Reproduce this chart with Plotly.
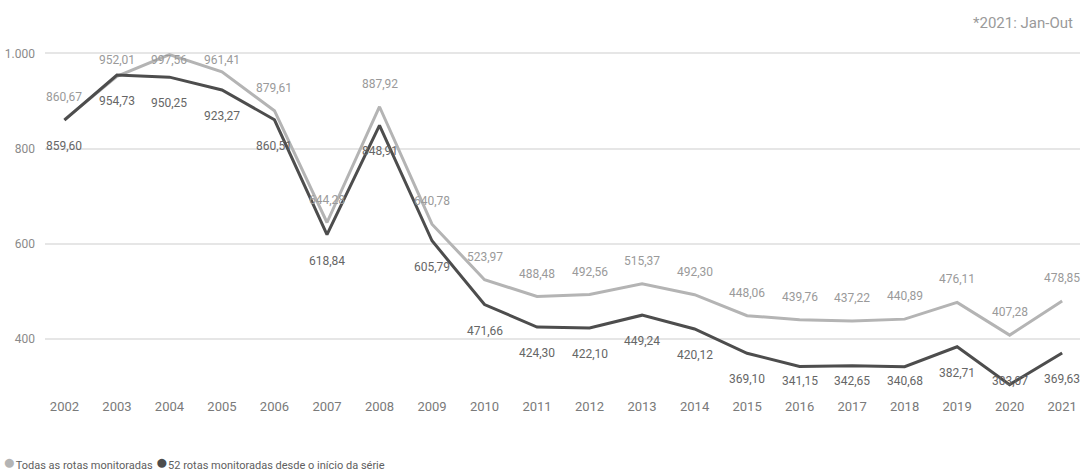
import plotly.graph_objects as go

years = list(range(2002, 2022))
todas = [860.67, 952.01, 997.56, 961.41, 879.61, 644.28, 887.92, 640.78, 523.97, 488.48,
         492.56, 515.37, 492.30, 448.06, 439.76, 437.22, 440.89, 476.11, 407.28, 478.85]
rotas52 = [859.60, 954.73, 950.25, 923.27, 860.51, 618.84, 848.91, 605.79, 471.66, 424.30,
           422.10, 449.24, 420.12, 369.10, 341.15, 342.65, 340.68, 382.71, 303.07, 369.63]
ytick_vals = [400, 600, 800, 1000]
ytick_text = ["400", "600", "800", "1.000"]

name_todas = "Todas as rotas monitoradas"
name_52 = "52 rotas monitoradas desde o início da série"

FONT = "Roboto, Liberation Sans, sans-serif"
LIGHT = "#b4b4b4"
DARK = "#4d4d4d"

W, H = 1083, 476
M_T, M_B, M_L, M_R = 40, 79, 45, 3
Y0, Y1 = 277, 1028.4
plot_h = H - M_T - M_B
ppu = plot_h / (Y1 - Y0)


def fmt(v):
    return f"{v:.2f}".replace(".", ",")


fig = go.Figure()
fig.add_trace(go.Scatter(x=years, y=todas, mode="lines", name=name_todas,
                         line=dict(color=LIGHT, width=3), showlegend=False))
fig.add_trace(go.Scatter(x=years, y=rotas52, mode="lines", name=name_52,
                         line=dict(color=DARK, width=3), showlegend=False))

# data labels
for x, v in zip(years, todas):
    py = M_T + (Y1 - v) * ppu  # pixel of point
    label_py = max(py - 23, 60)
    fig.add_annotation(x=x, y=v, text=fmt(v), showarrow=False,
                       yshift=py - label_py, font=dict(family=FONT, size=12, color="#9a9a9a"))
for x, v in zip(years, rotas52):
    py = M_T + (Y1 - v) * ppu
    label_py = min(py + 26, 381)
    fig.add_annotation(x=x, y=v, text=fmt(v), showarrow=False,
                       yshift=py - label_py, font=dict(family=FONT, size=12, color="#666666"))

fig.add_annotation(xref="paper", yref="paper", x=1.0, y=1.0, xanchor="right", yanchor="bottom",
                   xshift=-5, yshift=6, text="*2021: Jan-Out", showarrow=False,
                   font=dict(family=FONT, size=15, color="#9a9a9a"))

# legend (compact, like the original)
legend_text = (f"<span style='color:{LIGHT};font-size:21px'>●</span>{name_todas} "
               f"<span style='color:{DARK};font-size:21px'>●</span>{name_52}")
fig.add_annotation(xref="paper", yref="paper", x=0, y=0, xanchor="left", yanchor="middle",
                   xshift=-M_L + 1, yshift=-(H - M_T - plot_h - (H - 462)),
                   text=legend_text, showarrow=False,
                   font=dict(family=FONT, size=11, color="#606060"))

fig.update_layout(
    width=W, height=H,
    margin=dict(t=M_T, b=M_B, l=M_L, r=M_R),
    plot_bgcolor="white", paper_bgcolor="white",
    font=dict(family=FONT, size=12, color="#808080"),
    xaxis=dict(range=[2001.63, 2021.34], tickvals=years, ticktext=[str(y) for y in years],
               showgrid=False, zeroline=False, showline=False, ticks="",
               tickfont=dict(family=FONT, size=13, color="#7a7a7a")),
    yaxis=dict(range=[Y0, Y1], tickvals=ytick_vals, ticktext=ytick_text,
               showgrid=True, gridcolor="#e6e6e6", gridwidth=1.5, zeroline=False,
               showline=False, ticks="", ticklabelstandoff=9,
               tickfont=dict(family=FONT, size=12, color="#8a8a8a")),
    showlegend=False,
)

fig.write_html("out.html")
